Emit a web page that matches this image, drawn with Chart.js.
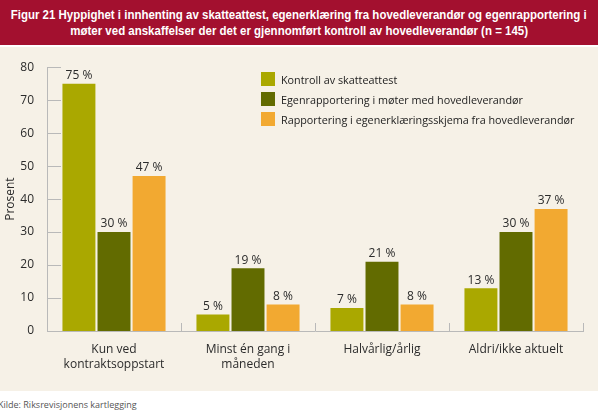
<!DOCTYPE html>
<html>
<head>
<meta charset="utf-8">
<script src="https://cdn.jsdelivr.net/npm/chart.js@4.4.1/dist/chart.umd.min.js"></script>
<style>
  html, body { margin: 0; padding: 0; background: #fff; }
  body { width: 598px; height: 414px; position: relative; overflow: hidden; font-family: 'Open Sans', 'Noto Sans', sans-serif; }
  #title {
    position: absolute; left: 0; top: 0; width: 598px; height: 45px;
    background: #a3102f; color: #fff;
    font-family: 'Liberation Sans', sans-serif; font-weight: bold;
    font-size: 13.5px; line-height: 15.5px; box-sizing: border-box; padding-top: 7px;
  }
  #title .line { display: flex; justify-content: center; white-space: nowrap; width: 598px; }
  #title .line span { display: inline-block; flex: none; transform-origin: 50% 50%; }
  #panel { position: absolute; left: 0; top: 47px; width: 598px; height: 344px; background: #f6f1e7; }
  #legend { position: absolute; left: 261px; top: 72px; font-size: 10.8px; color: #222; }
  .row { display: flex; align-items: center; height: 14px; margin-bottom: 6px; }
  .row span.box { width: 14px; height: 14px; margin-right: 6px; }
  #source { position: absolute; left: -2px; top: 398px; font-size: 9px; color: #555; }
</style>
</head>
<body>
<div id="title"><div class="line"><span>Figur 21 Hyppighet i innhenting av skatteattest, egenerklæring fra hovedleverandør og egenrapportering i</span></div><div class="line"><span>møter ved anskaffelser der det er gjennomført kontroll av hovedleverandør (n = 145)</span></div></div>
<div id="panel"><canvas id="c" width="598" height="344"></canvas></div>
<div id="legend"></div>
<div id="source">Kilde: Riksrevisjonens kartlegging</div>
<script>
  // Data
  const categories = [['Kun ved', 'kontraktsoppstart'], ['Minst én gang i', 'måneden'], 'Halvårlig/årlig', 'Aldri/ikke aktuelt'];
  const seriesNames = ['Kontroll av skatteattest', 'Egenrapportering i møter med hovedleverandør', 'Rapportering i egenerklæringsskjema fra hovedleverandør'];
  const skatteattest = [75, 5, 7, 13];
  const egenrapportering = [30, 19, 21, 30];
  const egenerklaering = [47, 8, 8, 37];
  const colors = ['#aaa800', '#626b00', '#f2a931'];

  const axisColor = '#b9b9b9';
  const textColor = '#2b2b2b';

  // squeeze the title into a condensed look (no narrow font installed)
  const titleSpans = document.querySelectorAll('#title .line span');
  const squeeze = 576 / titleSpans[0].getBoundingClientRect().width;
  titleSpans.forEach(s => { s.style.transform = `scaleX(${squeeze})`; });

  // value labels above bars + short axis ticks
  const extras = {
    id: 'extras',
    afterDatasetsDraw(chart) {
      const ctx = chart.ctx;
      ctx.save();
      ctx.fillStyle = textColor;
      ctx.font = '12px "Open Sans", "Noto Sans", sans-serif';
      ctx.textAlign = 'center';
      ctx.textBaseline = 'bottom';
      chart.data.datasets.forEach((ds, i) => {
        chart.getDatasetMeta(i).data.forEach((bar, j) => {
          ctx.fillText(ds.data[j] + ' %', bar.x, bar.y - 2);
        });
      });
      ctx.restore();
    },
    beforeDatasetsDraw(chart) {
      const ctx = chart.ctx;
      const y = chart.scales.y, x = chart.scales.x;
      const area = chart.chartArea;
      ctx.save();
      ctx.strokeStyle = axisColor;
      ctx.lineWidth = 1;
      y.ticks.forEach(t => {
        const py = Math.round(y.getPixelForValue(t.value)) + 0.5;
        ctx.beginPath();
        ctx.moveTo(area.left, py);
        ctx.lineTo(area.left + 14, py);
        ctx.stroke();
      });
      const n = categories.length;
      for (let i = 1; i <= n; i++) {
        const px = Math.round(x.getPixelForValue(i - 0.5)) + 0.5;
        ctx.beginPath();
        ctx.moveTo(px, area.bottom);
        ctx.lineTo(px, area.bottom - 8);
        ctx.stroke();
      }
      ctx.restore();
    }
  };

  const datasets = [skatteattest, egenrapportering, egenerklaering].map((d, i) => ({
    label: seriesNames[i],
    data: d,
    backgroundColor: colors[i],
    barPercentage: 0.94,
    categoryPercentage: 0.785
  }));

  new Chart(document.getElementById('c'), {
    type: 'bar',
    data: { labels: categories, datasets },
    options: {
      responsive: false,
      animation: false,
      layout: { padding: { top: 18, right: 15, left: 0, bottom: 0 } },
      plugins: { legend: { display: false }, tooltip: { enabled: false } },
      scales: {
        x: {
          grid: { display: false, drawTicks: false },
          border: { color: axisColor },
          ticks: { color: textColor, font: { size: 12, family: '"Open Sans", "Noto Sans", sans-serif', lineHeight: 1.25 }, padding: 11, maxRotation: 0, autoSkip: false },
          afterFit(s) { s.height = 60; }
        },
        y: {
          min: 0, max: 80,
          grid: { display: false, drawTicks: false },
          border: { color: axisColor },
          ticks: { stepSize: 10, color: textColor, font: { size: 12, family: '"Open Sans", "Noto Sans", sans-serif' }, padding: 13 },
          title: { display: true, text: 'Prosent', color: textColor, font: { size: 12, family: '"Open Sans", "Noto Sans", sans-serif' }, padding: { top: 3, bottom: 0 } },
          afterFit(s) { s.width = 47; }
        }
      }
    },
    plugins: [extras]
  });

  // HTML legend
  const legend = document.getElementById('legend');
  seriesNames.forEach((name, i) => {
    const row = document.createElement('div');
    row.className = 'row';
    row.innerHTML = `<span class="box" style="background:${colors[i]}"></span><span>${name}</span>`;
    legend.appendChild(row);
  });
</script>
</body>
</html>
